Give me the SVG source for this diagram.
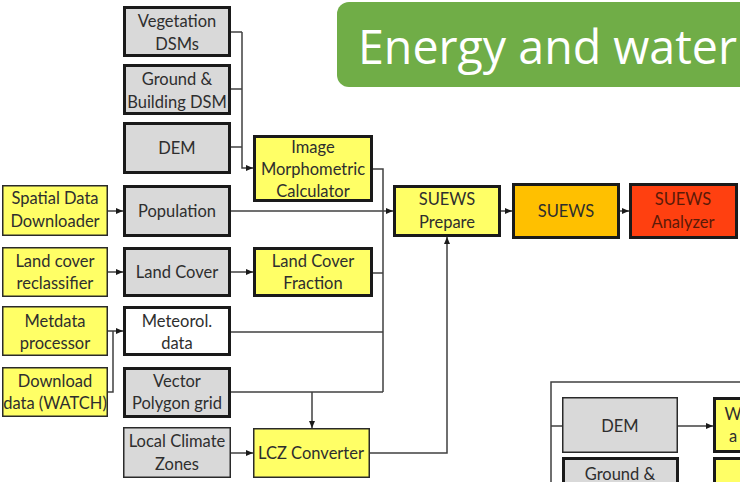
<svg xmlns="http://www.w3.org/2000/svg" width="740" height="482" viewBox="0 0 740 482">
  <defs>
    <style>
      .box { stroke: #1a1a1a; stroke-width: 3; }
      .thin { stroke: #2a2a2a; stroke-width: 1.5; }
      .grey { fill: #d9d9d9; }
      .white { fill: #ffffff; }
      .yellow { fill: #ffff66; }
      .orange { fill: #ffc000; }
      .red { fill: #ff4010; }
      .lbl { font-family: Lato, "Open Sans", "Liberation Sans", sans-serif; font-size: 16.5px; fill: #2e2e2e; text-anchor: middle; }
      .dark { fill: #5a1a08; }
      .wire { fill: none; stroke: #404040; stroke-width: 1.5; }
      .title { font-family: "Open Sans", "Noto Sans", "Liberation Sans", sans-serif; font-weight: 400; font-size: 48px; fill: #ffffff; }
    </style>
    <marker id="arr" markerUnits="userSpaceOnUse" markerWidth="7" markerHeight="6" refX="7" refY="3" orient="auto">
      <path d="M0,0 L7,3 L0,6 z" fill="#1a1a1a"/>
    </marker>
  </defs>

  <!-- title banner -->
  <g id="banner">
    <rect x="337" y="2" width="430" height="85" rx="12" fill="#70ad47"/>
    <text class="title" x="358" y="64" textLength="379" lengthAdjust="spacingAndGlyphs">Energy and water</text>
  </g>

  <!-- connectors -->
  <g id="connectors">
    <path class="wire" d="M231,32 H242"/>
    <path class="wire" d="M231,89 H242"/>
    <path class="wire" d="M231,147 H242"/>
    <path class="wire" d="M242,32 V168 H253" marker-end="url(#arr)"/>
    <path class="wire" d="M373,169 H383 V392"/>
    <path class="wire" d="M373,273 H383"/>
    <path class="wire" d="M231,332 H383"/>
    <path class="wire" d="M231,392 H383"/>
    <path class="wire" d="M312,392 V428" marker-end="url(#arr)"/>
    <path class="wire" d="M231,211 H393" marker-end="url(#arr)"/>
    <path class="wire" d="M108,211 H123" marker-end="url(#arr)"/>
    <path class="wire" d="M108,272 H123" marker-end="url(#arr)"/>
    <path class="wire" d="M231,272 H253" marker-end="url(#arr)"/>
    <path class="wire" d="M108,331 H123" marker-end="url(#arr)"/>
    <path class="wire" d="M108,392 H113 V331"/>
    <path class="wire" d="M231,453 H253" marker-end="url(#arr)"/>
    <path class="wire" d="M370,453 H447 V237" marker-end="url(#arr)"/>
    <path class="wire" d="M501,211 H512" marker-end="url(#arr)"/>
    <path class="wire" d="M620,211 H629" marker-end="url(#arr)"/>
    <!-- lower-right group -->
    <path class="wire" d="M741,382 H551 V483"/>
    <path class="wire" d="M551,426 H562"/>
    <path class="wire" d="M678,426 H713" marker-end="url(#arr)"/>
  </g>

  <!-- input layers -->
  <g id="veg-dsm">
    <rect class="box grey" x="124.5" y="7.5" width="105" height="48"/>
    <text class="lbl" x="177" y="27">Vegetation</text>
    <text class="lbl" x="177" y="50">DSMs</text>
  </g>
  <g id="ground-building-dsm">
    <rect class="box grey" x="124.5" y="65.5" width="105" height="48"/>
    <text class="lbl" x="177" y="85">Ground &amp;</text>
    <text class="lbl" x="177" y="108">Building DSM</text>
  </g>
  <g id="dem">
    <rect class="box grey" x="124.5" y="123.5" width="105" height="49"/>
    <text class="lbl" x="177" y="154">DEM</text>
  </g>
  <g id="population">
    <rect class="box grey" x="124.5" y="186.5" width="105" height="49"/>
    <text class="lbl" x="177" y="217">Population</text>
  </g>
  <g id="land-cover">
    <rect class="box grey" x="124.5" y="248.5" width="105" height="47"/>
    <text class="lbl" x="177" y="278">Land Cover</text>
  </g>
  <g id="meteo-data">
    <rect class="box white" x="124.5" y="307.5" width="105" height="47"/>
    <text class="lbl" x="177" y="327">Meteorol.</text>
    <text class="lbl" x="177" y="349">data</text>
  </g>
  <g id="vector-grid">
    <rect class="box grey" x="124.5" y="368.5" width="105" height="48"/>
    <text class="lbl" x="177" y="387">Vector</text>
    <text class="lbl" x="177" y="409">Polygon grid</text>
  </g>
  <g id="lcz">
    <rect class="thin grey" x="123.75" y="427.75" width="106.5" height="49.5"/>
    <text class="lbl" x="177" y="447">Local Climate</text>
    <text class="lbl" x="177" y="470">Zones</text>
  </g>

  <!-- pre-processors -->
  <g id="spatial-downloader">
    <rect class="thin yellow" x="2.75" y="185.75" width="104.5" height="49.5"/>
    <text class="lbl" x="55" y="204">Spatial Data</text>
    <text class="lbl" x="55" y="227">Downloader</text>
  </g>
  <g id="lc-reclassifier">
    <rect class="thin yellow" x="2.75" y="247.75" width="104.5" height="48.5"/>
    <text class="lbl" x="55" y="267">Land cover</text>
    <text class="lbl" x="55" y="289">reclassifier</text>
  </g>
  <g id="metdata-processor">
    <rect class="thin yellow" x="2.75" y="306.75" width="104.5" height="48.5"/>
    <text class="lbl" x="55" y="327">Metdata</text>
    <text class="lbl" x="55" y="349">processor</text>
  </g>
  <g id="download-watch">
    <rect class="thin yellow" x="2.75" y="367.75" width="104.5" height="48.5"/>
    <text class="lbl" x="55" y="387">Download</text>
    <text class="lbl" x="55" y="409">data (WATCH)</text>
  </g>
  <g id="morphometric">
    <rect class="box yellow" x="254.5" y="136.5" width="117" height="64"/>
    <text class="lbl" x="313" y="153">Image</text>
    <text class="lbl" x="313" y="175">Morphometric</text>
    <text class="lbl" x="313" y="197">Calculator</text>
  </g>
  <g id="lc-fraction">
    <rect class="box yellow" x="254.5" y="248.5" width="117" height="47"/>
    <text class="lbl" x="313" y="267">Land Cover</text>
    <text class="lbl" x="313" y="289">Fraction</text>
  </g>
  <g id="lcz-converter">
    <rect class="thin yellow" x="253.75" y="428.75" width="115.5" height="48.5"/>
    <text class="lbl" x="311" y="459">LCZ Converter</text>
  </g>

  <!-- model chain -->
  <g id="suews-prepare">
    <rect class="box yellow" x="394.5" y="186.5" width="105" height="49"/>
    <text class="lbl" x="447" y="205">SUEWS</text>
    <text class="lbl" x="447" y="228">Prepare</text>
  </g>
  <g id="suews">
    <rect class="box orange" x="513.5" y="184.5" width="105" height="53"/>
    <text class="lbl" x="566" y="217">SUEWS</text>
  </g>
  <g id="suews-analyzer">
    <rect class="box red" x="630.5" y="184.5" width="106" height="53"/>
    <text class="lbl dark" x="683" y="205">SUEWS</text>
    <text class="lbl dark" x="683" y="228">Analyzer</text>
  </g>

  <!-- lower-right group -->
  <g id="dem-2">
    <rect class="thin grey" x="562.75" y="397.75" width="114.5" height="54.5"/>
    <text class="lbl" x="620" y="432">DEM</text>
  </g>
  <g id="wall-tool">
    <rect class="box yellow" x="714.5" y="398.5" width="40" height="53"/>
    <text class="lbl" x="733" y="420">W</text>
    <text class="lbl" x="733" y="442">a</text>
  </g>
  <g id="ground-building-2">
    <rect class="box grey" x="563.5" y="458.5" width="114" height="40"/>
    <text class="lbl" x="620" y="480">Ground &amp;</text>
  </g>
  <g id="lower-tool">
    <rect class="box yellow" x="714.5" y="458.5" width="40" height="40"/>
  </g>
</svg>
